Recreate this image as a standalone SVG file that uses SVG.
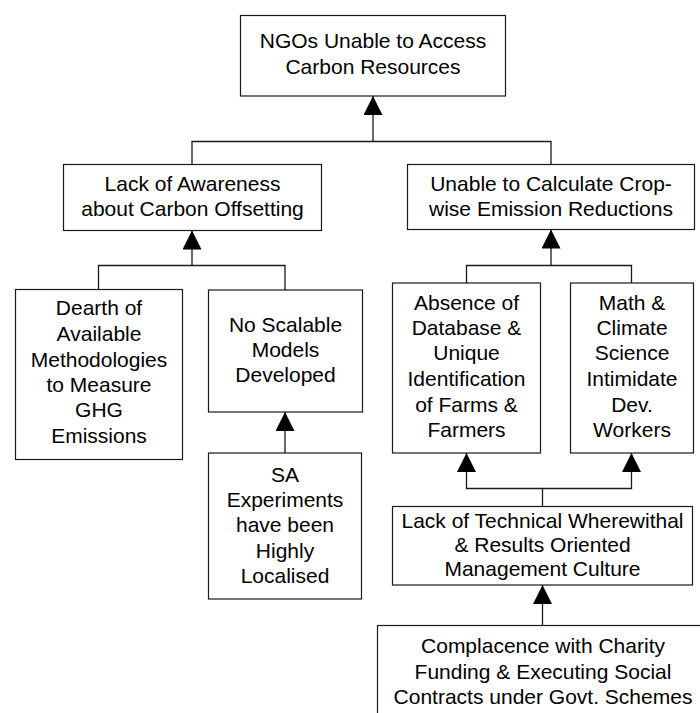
<svg xmlns="http://www.w3.org/2000/svg" width="700" height="713" viewBox="0 0 700 713">
  <style>
    .box { fill: #ffffff; stroke: #1a1a1a; stroke-width: 1.2; }
    .lbl { font-family: "Liberation Sans", Arial, sans-serif; font-size: 21px; fill: #000000; text-anchor: middle; }
    .wire { fill: none; stroke: #1a1a1a; stroke-width: 1.3; }
  </style>
  <defs>
    <marker id="tri" markerUnits="userSpaceOnUse" markerWidth="20" markerHeight="20" refX="19" refY="9.5" orient="auto">
      <path d="M0,0 L19,9.5 L0,19 Z" fill="#000000"/>
    </marker>
  </defs>

  <rect width="700" height="713" fill="#ffffff"/>

  <!-- connectors -->
  <g id="connectors">
    <path class="wire" d="M192,164.5 V141.5 H551 V164.5"/>
    <path class="wire" d="M373,141.5 V96" marker-end="url(#tri)"/>

    <path class="wire" d="M98.5,289.5 V265.5 H285 V290"/>
    <path class="wire" d="M192,265.5 V230.5" marker-end="url(#tri)"/>

    <path class="wire" d="M285,453 V412" marker-end="url(#tri)"/>

    <path class="wire" d="M466.5,283 V265.5 H631.5 V283"/>
    <path class="wire" d="M551,265.5 V229.5" marker-end="url(#tri)"/>

    <path class="wire" d="M542.5,506.5 V488.5 H466.5 V453" marker-end="url(#tri)"/>
    <path class="wire" d="M542.5,488.5 H631.5 V453" marker-end="url(#tri)"/>

    <path class="wire" d="M542.5,625.5 V585" marker-end="url(#tri)"/>
  </g>

  <!-- root problem -->
  <g id="ngos-unable">
    <rect class="box" x="240.5" y="15.5" width="265" height="80.5"/>
    <text class="lbl" x="373" y="48">NGOs Unable to Access</text>
    <text class="lbl" x="373" y="74">Carbon Resources</text>
  </g>

  <g id="lack-awareness">
    <rect class="box" x="63.5" y="164.5" width="258" height="66"/>
    <text class="lbl" x="192.5" y="191">Lack of Awareness</text>
    <text class="lbl" x="192.5" y="216">about Carbon Offsetting</text>
  </g>

  <g id="unable-calculate">
    <rect class="box" x="407.5" y="164.5" width="287" height="65"/>
    <text class="lbl" x="551" y="191">Unable to Calculate Crop-</text>
    <text class="lbl" x="551" y="215.5">wise Emission Reductions</text>
  </g>

  <g id="dearth">
    <rect class="box" x="15.5" y="289.5" width="167" height="170"/>
    <text class="lbl" x="99" y="315">Dearth of</text>
    <text class="lbl" x="99" y="341">Available</text>
    <text class="lbl" x="99" y="366.5">Methodologies</text>
    <text class="lbl" x="99" y="391.5">to Measure</text>
    <text class="lbl" x="99" y="416.5">GHG</text>
    <text class="lbl" x="99" y="442.5">Emissions</text>
  </g>

  <g id="no-scalable">
    <rect class="box" x="208.5" y="290" width="154" height="122"/>
    <text class="lbl" x="285.5" y="331.5">No Scalable</text>
    <text class="lbl" x="285.5" y="357">Models</text>
    <text class="lbl" x="285.5" y="381.5">Developed</text>
  </g>

  <g id="sa-experiments">
    <rect class="box" x="208.5" y="453" width="153" height="146"/>
    <text class="lbl" x="285" y="481.5">SA</text>
    <text class="lbl" x="285" y="507">Experiments</text>
    <text class="lbl" x="285" y="532">have been</text>
    <text class="lbl" x="285" y="558">Highly</text>
    <text class="lbl" x="285" y="583">Localised</text>
  </g>

  <g id="absence-database">
    <rect class="box" x="392.5" y="283" width="148" height="170"/>
    <text class="lbl" x="466.5" y="309.5">Absence of</text>
    <text class="lbl" x="466.5" y="335">Database &amp;</text>
    <text class="lbl" x="466.5" y="360">Unique</text>
    <text class="lbl" x="466.5" y="386">Identification</text>
    <text class="lbl" x="466.5" y="411.5">of Farms &amp;</text>
    <text class="lbl" x="466.5" y="436.5">Farmers</text>
  </g>

  <g id="math-climate">
    <rect class="box" x="570.5" y="283" width="123" height="170"/>
    <text class="lbl" x="632" y="309.5">Math &amp;</text>
    <text class="lbl" x="632" y="335">Climate</text>
    <text class="lbl" x="632" y="360">Science</text>
    <text class="lbl" x="632" y="386">Intimidate</text>
    <text class="lbl" x="632" y="411.5">Dev.</text>
    <text class="lbl" x="632" y="436.5">Workers</text>
  </g>

  <g id="lack-technical">
    <rect class="box" x="392.5" y="506.5" width="300" height="78.5"/>
    <text class="lbl" x="542.5" y="528">Lack of Technical Wherewithal</text>
    <text class="lbl" x="542.5" y="552">&amp; Results Oriented</text>
    <text class="lbl" x="542.5" y="576">Management Culture</text>
  </g>

  <g id="complacence">
    <rect class="box" x="377.5" y="625.5" width="340" height="100"/>
    <text class="lbl" x="543" y="653">Complacence with Charity</text>
    <text class="lbl" x="543" y="678.5">Funding &amp; Executing Social</text>
    <text class="lbl" x="543" y="704">Contracts under Govt. Schemes</text>
  </g>
</svg>
